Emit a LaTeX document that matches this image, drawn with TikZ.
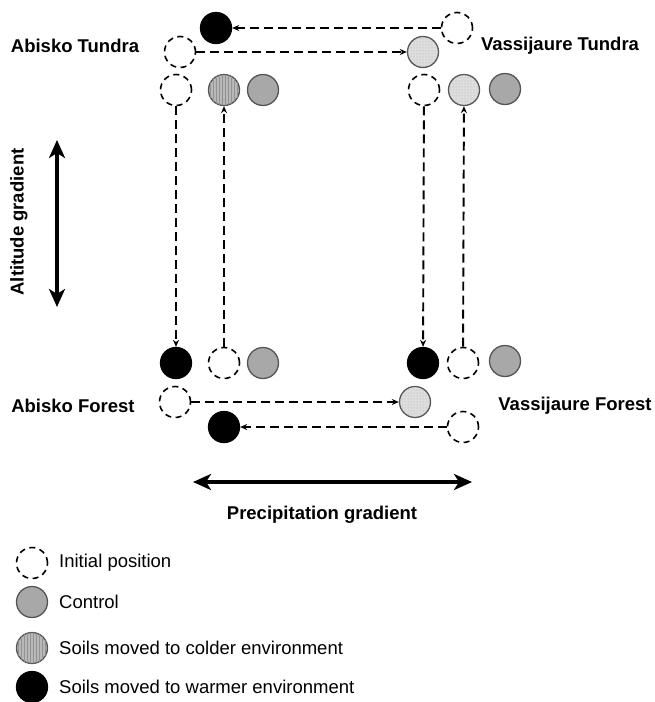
\documentclass[tikz,border=0pt]{standalone}
\usepackage{fontspec}
\setmainfont{Liberation Sans}
\usetikzlibrary{arrows.meta,patterns}
\definecolor{ctrlgray}{HTML}{A8A8A8}
\definecolor{coldgray}{HTML}{B8B8B8}
\definecolor{dotgray}{HTML}{DEDEDE}
\definecolor{rimgray}{HTML}{555555}
\tikzset{
  base/.style={circle,minimum size=31pt,inner sep=0pt},
  initpos/.style={base,draw=black,line width=1.6pt,dash pattern=on 6pt off 4.5pt},
  ctrl/.style={base,fill=ctrlgray,draw=rimgray,line width=1.3pt},
  colder/.style={base,fill=coldgray,draw=rimgray,line width=1.3pt,
     postaction={pattern=vertical lines,pattern color=gray!85}},
  dotfill/.style={base,fill=dotgray,draw=rimgray,line width=1.3pt,
     postaction={pattern=dots,pattern color=gray!70}},
  warmer/.style={base,fill=black,draw=black,line width=1.3pt},
  conn/.style={line width=1.9pt,dash pattern=on 9pt off 5pt,
     -{Stealth[length=7pt,width=6pt]}},
  bigarrow/.style={line width=3.8pt,{Stealth[length=18pt,width=16pt,inset=5pt]}-{Stealth[length=18pt,width=16pt,inset=5pt]}},
  site/.style={font=\fontsize{18.5}{22}\selectfont\bfseries,inner sep=0pt},
  legtxt/.style={font=\fontsize{18.5}{22}\selectfont,anchor=west,inner sep=0pt}
}
\begin{document}
\begin{tikzpicture}[x=1pt,y=-1pt]
\useasboundingbox (0,0) rectangle (655,702);
% top row
\node[warmer] (tw) at (216,28) {};
\node[initpos] (vti) at (457,28) {};
\node[initpos] (ati) at (180,52) {};
\node[dotfill] (vtd) at (423,52) {};
% tundra plots
\node[initpos] (at1) at (176,90) {};
\node[colder] (at2) at (224,90) {};
\node[ctrl] (at3) at (263,90) {};
\node[initpos] (vt1) at (424,90) {};
\node[dotfill] (vt2) at (464,90) {};
\node[ctrl] (vt3) at (505,89) {};
% forest plots
\node[warmer] (af1) at (176,363) {};
\node[initpos] (af2) at (224,363) {};
\node[ctrl] (af3) at (263,363) {};
\node[warmer] (vf1) at (423,363) {};
\node[initpos] (vf2) at (463,363) {};
\node[ctrl] (vf3) at (505,361) {};
% bottom row
\node[initpos] (afi) at (175,402) {};
\node[dotfill] (afd) at (415,402) {};
\node[warmer] (fw) at (224,427) {};
\node[initpos] (vfi) at (463,427) {};
% connectors
\draw[conn] (vti) -- (tw);
\draw[conn] (ati) -- (vtd);
\draw[conn] (at1) -- (af1);
\draw[conn] (af2) -- (at2);
\draw[conn] (vt1) -- (vf1);
\draw[conn] (vf2) -- (vt2);
\draw[conn] (afi) -- (afd);
\draw[conn] (vfi) -- (fw);
% site labels
\node[site] (lat) at (75,46) {Abisko Tundra};
\node[site] (lvt) at (560,46) {Vassijaure Tundra};
\node[site] (laf) at (73,406) {Abisko Forest};
\node[site] (lvf) at (575,406) {Vassijaure Forest};
% gradients
\coordinate (altA) at (57,140);
\coordinate (altB) at (57,307);
\draw[bigarrow] (altA) -- (altB);
\node[site,rotate=90] (alt) at (19,222) {Altitude gradient};
\coordinate (preA) at (193,482);
\coordinate (preB) at (472,482);
\draw[bigarrow] (preA) -- (preB);
\node[site] (pre) at (322,515) {Precipitation gradient};
% legend
\node[initpos] (k1) at (32,563) {};
\node[legtxt] (t1) at (59,563) {Initial position};
\node[ctrl] (k2) at (32,602) {};
\node[legtxt] (t2) at (59,602) {Control};
\node[colder] (k3) at (32,648) {};
\node[legtxt] (t3) at (59,648) {Soils moved to colder environment};
\node[warmer] (k4) at (32,687) {};
\node[legtxt] (t4) at (59,687) {Soils moved to warmer environment};
\end{tikzpicture}
\end{document}
